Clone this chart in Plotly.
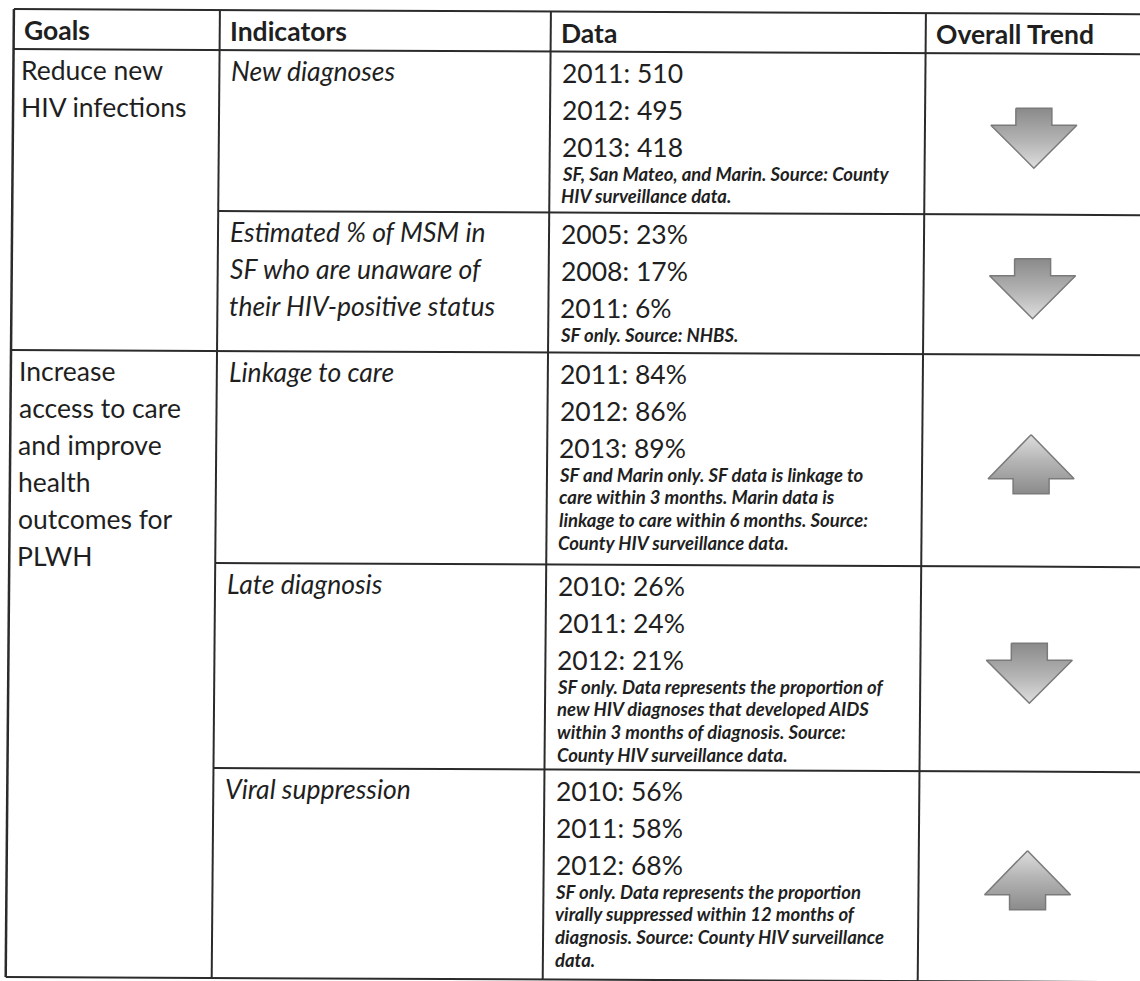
import plotly.graph_objects as go

# ---------------- data ----------------
header = ["Goals", "Indicators", "Data", "Overall Trend"]
goals = [["Reduce new", "HIV infections"],
         ["Increase", "access to care", "and improve", "health", "outcomes for", "PLWH"]]
goal_rows = [2, 3]
indicators = [["New diagnoses"],
              ["Estimated % of MSM in", "SF who are unaware of", "their HIV-positive status"],
              ["Linkage to care"],
              ["Late diagnosis"],
              ["Viral suppression"]]
years = [[2011, 2012, 2013], [2005, 2008, 2011], [2011, 2012, 2013],
         [2010, 2011, 2012], [2010, 2011, 2012]]
values = [[510, 495, 418], [23, 17, 6], [84, 86, 89], [26, 24, 21], [56, 58, 68]]
units = ["", "%", "%", "%", "%"]
notes = [
    ["SF, San Mateo, and Marin. Source: County", "HIV surveillance data."],
    ["SF only. Source: NHBS."],
    ["SF and Marin only. SF data is linkage to", "care within 3 months. Marin data is",
     "linkage to care within 6 months. Source:", "County HIV surveillance data."],
    ["SF only. Data represents the proportion of", "new HIV diagnoses that developed AIDS",
     "within 3 months of diagnosis. Source:", "County HIV surveillance data."],
    ["SF only. Data represents the proportion", "virally suppressed within 12 months of",
     "diagnosis. Source: County HIV surveillance", "data."],
]
trend = ["down", "down", "up", "down", "up"]

# ---------------- layout constants ----------------
W, H = 1140, 981
COL_X = [14, 220, 551, 926]             # column borders (unskewed)
ROW_Y = [9, 49, 210, 350, 562, 767, 977]  # row borders (unskewed)
KX, KY = 0.0085, 0.0045                  # slight scan skew
FONT = "Lato, 'Open Sans', sans-serif"
INK = "#1f1f1f"
LINE = "#2b2b2b"
BIG, SMALL = 26.5, 18.5
LINE_H, NOTE_H = 37, 22.8
PAD_X, FIRST, NOTE_GAP = 10, 21, 27


def T(x, y):
    return x - KX * y, y + KY * x


fig = go.Figure()
shapes, ann = [], []


def seg(x0, y0, x1, y1, w=2):
    a, b = T(x0, y0), T(x1, y1)
    shapes.append(dict(type="line", xref="x", yref="y", x0=a[0], y0=a[1], x1=b[0], y1=b[1],
                       line=dict(color=LINE, width=w)))


def text(x, y, s, size, weight="normal", style="normal"):
    px, py = T(x, y)
    ann.append(dict(x=px, y=py, xref="x", yref="y", text=s, showarrow=False,
                    xanchor="left", yanchor="middle",
                    font=dict(family=FONT, size=size, color=INK, weight=weight, style=style)))


# table lines
for y in [ROW_Y[0], ROW_Y[1], ROW_Y[3], ROW_Y[6]]:
    seg(COL_X[0], y, W + 30, y)
for y in [ROW_Y[2], ROW_Y[4], ROW_Y[5]]:
    seg(COL_X[1], y, W + 30, y)
for k, x in enumerate(COL_X):
    seg(x, ROW_Y[0], x, ROW_Y[6], w=2.5 if k == 0 else 2)

# header
for c, h in enumerate(header):
    text(COL_X[c] + PAD_X - 2, (ROW_Y[0] + ROW_Y[1]) / 2 + 1, h, BIG, weight="bold")

# goals
r = 0
for g, span in zip(goals, goal_rows):
    top = ROW_Y[1 + r]
    for i, s in enumerate(g):
        text(COL_X[0] + PAD_X - 4, top + FIRST + i * LINE_H, s, BIG)
    r += span

# indicators, data, notes
for i in range(len(indicators)):
    top = ROW_Y[1 + i]
    for j, s in enumerate(indicators[i]):
        text(COL_X[1] + PAD_X, top + FIRST + j * LINE_H, s, BIG, style="italic")
    for j, (yr, v) in enumerate(zip(years[i], values[i])):
        text(COL_X[2] + PAD_X, top + FIRST + j * LINE_H, f"{yr}: {v}{units[i]}", BIG)
    ny = top + FIRST + 2 * LINE_H + NOTE_GAP
    for j, s in enumerate(notes[i]):
        text(COL_X[2] + PAD_X, ny + j * NOTE_H, s, SMALL, weight="bold", style="italic")

# trend arrows
DOWN = [(-18, -30), (18, -30), (18, -13), (43, -13), (0, 30), (-43, -13), (-18, -13)]
UP = [(0, -30), (43, 14), (18, 14), (18, 29), (-18, 29), (-18, 14), (-43, 14)]
cx0 = (COL_X[3] + W) / 2 + 2
for i, t in enumerate(trend):
    cy0 = (ROW_Y[1 + i] + ROW_Y[2 + i]) / 2 + 4
    cx, cy = T(cx0, cy0)
    pts = DOWN if t == "down" else UP
    xs = [cx + p[0] for p in pts] + [cx + pts[0][0]]
    ys = [cy + p[1] for p in pts] + [cy + pts[0][1]]
    cs = ([[0, "#8a8a8a"], [0.55, "#b4b4b4"], [1, "#dedede"]] if t == "down"
          else [[0, "#dedede"], [0.45, "#b4b4b4"], [1, "#8a8a8a"]])
    fig.add_trace(go.Scatter(
        x=xs, y=ys, mode="lines", fill="toself",
        fillgradient=dict(type="vertical", colorscale=cs, start=cy - 30, stop=cy + 30),
        line=dict(color="#7a7a7a", width=1.5), hoverinfo="skip", showlegend=False))

fig.update_layout(
    width=W, height=H, margin=dict(l=0, r=0, t=0, b=0),
    paper_bgcolor="white", plot_bgcolor="white",
    shapes=shapes, annotations=ann,
    xaxis=dict(range=[0, W], visible=False, fixedrange=True),
    yaxis=dict(range=[H, 0], visible=False, fixedrange=True),
)

fig.write_html("out.html", config={"displayModeBar": False},
               post_script="document.body.style.margin='0';document.body.style.overflow='hidden';")
